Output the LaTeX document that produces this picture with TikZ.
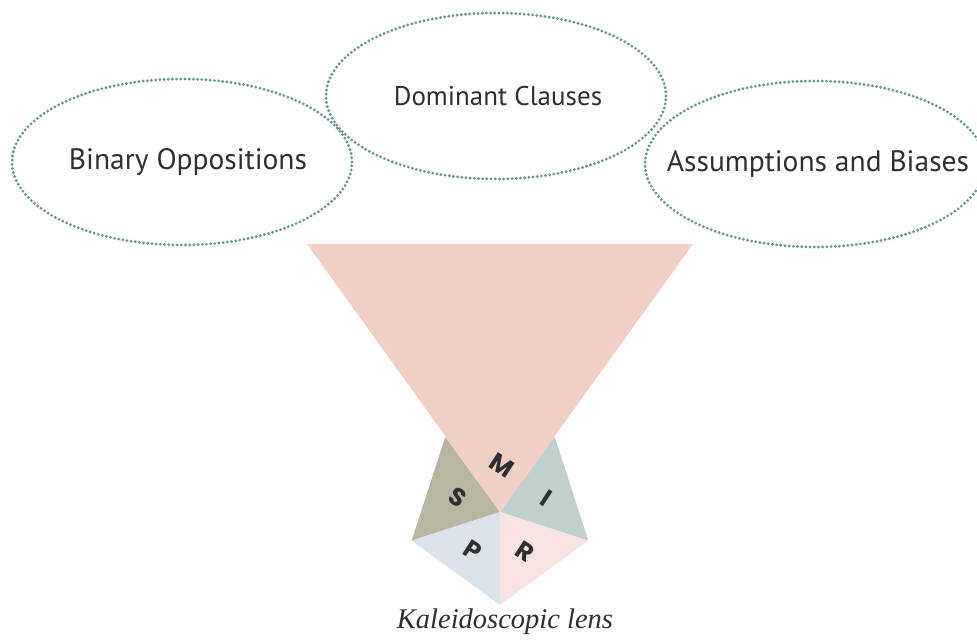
\documentclass[tikz,border=0pt]{standalone}
\usepackage{fontspec}
\setmainfont{Liberation Serif}
\newfontfamily\labelfont{PT Sans}
\newfontfamily\lensfont{Poppins}
\usetikzlibrary{shapes.geometric}

\definecolor{dotline}{HTML}{6A9690}
\definecolor{coneclr}{HTML}{F2CFC6}
\definecolor{segS}{HTML}{B8B6A2}
\definecolor{segI}{HTML}{BFD0CF}
\definecolor{segP}{HTML}{DCE2E9}
\definecolor{segR}{HTML}{F6E4E3}
\definecolor{inkgray}{HTML}{2F2F2F}

\tikzset{
  idea/.style={ellipse, draw=dotline, line width=3.2pt,
    dash pattern=on 0pt off 4.2pt, line cap=round,
    minimum width=340pt, minimum height=166pt, inner sep=0pt},
  ideatext/.style={font=\labelfont\fontsize{#1}{34}\selectfont, text=inkgray, inner sep=0pt},
  facet/.style={font=\lensfont\bfseries\fontsize{25}{28}\selectfont,
    text=inkgray, rotate=-33, inner sep=0pt},
}

\begin{document}
\begin{tikzpicture}[x=1pt, y=-1pt]
  \useasboundingbox (0,0) rectangle (977,642);
  \clip (0,0) rectangle (977,642);

  % the three lenses of critique
  \node[idea] (bin) at (182,162) {};
  \node[idea] (dom) at (496,96) {};
  \node[idea] (ass) at (815,164) {};
  \node[ideatext=29.5] (bint) at (188,162) {Binary Oppositions};
  \node[ideatext=27] (domt) at (498,96) {Dominant Clauses};
  \node[ideatext=29.5] (asst) at (818,164) {Assumptions and Biases};

  % pentagonal kaleidoscope, pointing down
  \coordinate (c)  at (500,512);
  \coordinate (vb) at (500,605);
  \coordinate (vr) at (588.4,540.7);
  \coordinate (vtr) at (554.7,436.8);
  \coordinate (vtl) at (445.3,436.8);
  \coordinate (vl) at (411.6,540.7);

  \fill[segS] (c) -- (vtl) -- (vl) -- cycle;
  \fill[segI] (c) -- (vtr) -- (vr) -- cycle;
  \fill[segP] (c) -- (vl) -- (vb) -- cycle;
  \fill[segR] (c) -- (vb) -- (vr) -- cycle;
  \fill[coneclr] (c) -- (vtl) -- (vtr) -- cycle;

  % viewing cone reaching up to the lenses
  \coordinate (tl) at (307,244);
  \coordinate (tr) at (693,244);
  \fill[coneclr] (tl) -- (tr) -- (c) -- cycle;

  % facet letters
  \node[facet] (m) at (502,465) {M};
  \node[facet] (s) at (458,497) {S};
  \node[facet] (i) at (546,498) {I};
  \node[facet] (p) at (473,550) {P};
  \node[facet] (r) at (525,552) {R};

  \node[font=\itshape\fontsize{28.5}{32}\selectfont, text=inkgray] (cap) at (505,622) {Kaleidoscopic lens};
\end{tikzpicture}
\end{document}
